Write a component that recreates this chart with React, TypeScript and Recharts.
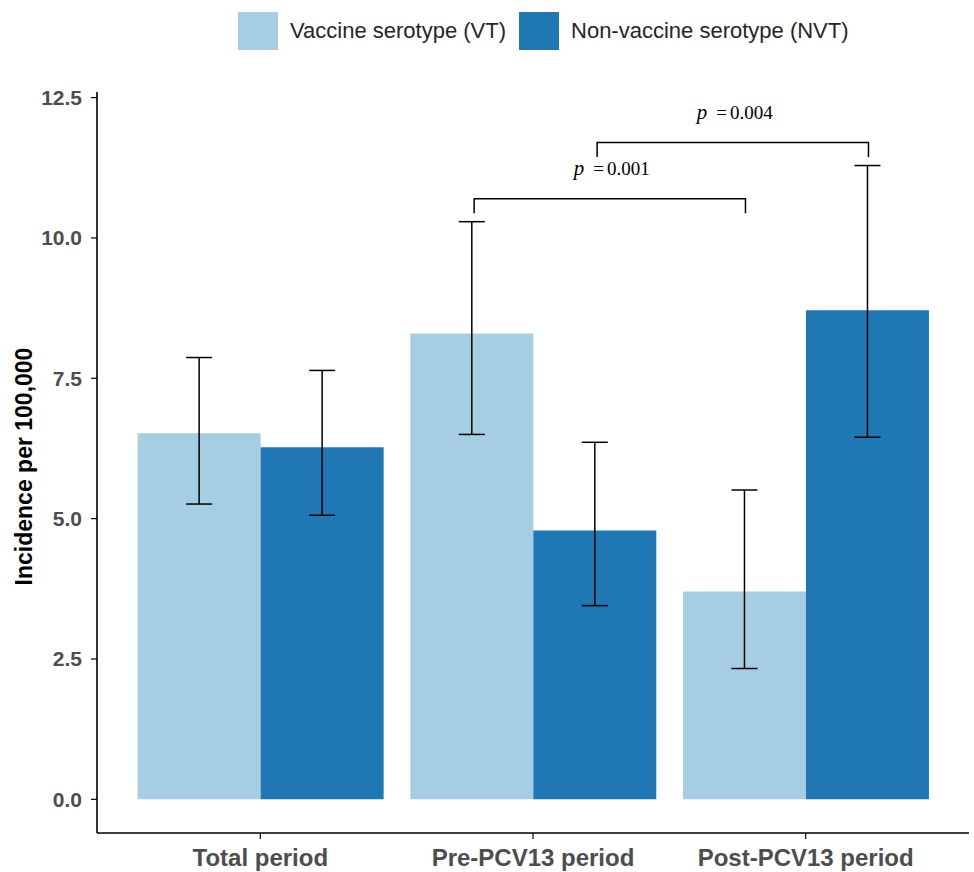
import { BarChart, Bar, XAxis, YAxis, ErrorBar, Legend } from 'recharts'

const categories = ['Total period', 'Pre-PCV13 period', 'Post-PCV13 period']

const vtValues = [6.52, 8.3, 3.7]
const vtLower = [5.26, 6.5, 2.33]
const vtUpper = [7.87, 10.29, 5.51]

const nvtValues = [6.27, 4.79, 8.71]
const nvtLower = [5.06, 3.45, 6.45]
const nvtUpper = [7.64, 6.36, 11.29]

const yTicks = [0, 2.5, 5, 7.5, 10, 12.5]

// significance brackets: [category index, series] -> [category index, series]
const bracketFrom: [number, string][] = [[1, 'vt'], [1, 'nvt']]
const bracketTo: [number, string][] = [[2, 'vt'], [2, 'nvt']]
const bracketY = [10.7, 11.7]
const bracketP = ['0.001', '0.004']

const VT_COLOR = '#a6cee3'
const NVT_COLOR = '#1f78b4'
const SANS = '"Liberation Sans", Arial, sans-serif'
const SERIF = '"Liberation Serif", "Times New Roman", serif'

const series = [
  { key: 'vt', label: 'Vaccine serotype (VT)', color: VT_COLOR },
  { key: 'nvt', label: 'Non-vaccine serotype (NVT)', color: NVT_COLOR },
]

const data = categories.map((name, i) => ({
  name,
  vt: vtValues[i],
  nvt: nvtValues[i],
  vtErr: [vtValues[i] - vtLower[i], vtUpper[i] - vtValues[i]],
  nvtErr: [nvtValues[i] - nvtLower[i], nvtUpper[i] - nvtValues[i]],
}))

// dodge geometry like ggplot: bar group width 0.9, each bar 0.45 of the band
const GAP = 0.05
const DODGE = (1 - 2 * GAP) / 4
const xPos = (idx: number, s: string) => idx + (s === 'vt' ? -DODGE : DODGE)

function LegendBox() {
  return (
    <div style={{ display: 'flex', alignItems: 'center', height: 50, paddingLeft: 238, fontFamily: SANS, fontSize: 22, color: '#262626' }}>
      {series.map((s) => (
        <div key={s.key} style={{ display: 'flex', alignItems: 'center', marginRight: 13 }}>
          <span style={{ display: 'inline-block', width: 40, height: 38, background: s.color, marginRight: 12 }} />
          <span>{s.label}</span>
        </div>
      ))}
    </div>
  )
}

function YLabel(props: any) {
  const vb = props.viewBox || { y: 0, height: 0 }
  const cy = vb.y + vb.height / 2 + 4
  return (
    <text x={32} y={cy} transform={`rotate(-90, 32, ${cy})`} textAnchor="middle"
      fontFamily={SANS} fontWeight="bold" fontSize={23} fill="#000">
      Incidence per 100,000
    </text>
  )
}

// draws the brackets that end on this bar, using the bar's own geometry from the scales
function bracketLabel(seriesKey: string) {
  return (props: any) => {
    const vb = props.viewBox || {}
    const x = props.x ?? vb.x
    const y = props.y ?? vb.y
    const width = props.width ?? vb.width
    const height = props.height ?? vb.height
    const index = props.index
    const value = seriesKey === 'vt' ? vtValues[index] : nvtValues[index]
    const out: any[] = []
    bracketTo.forEach((to, i) => {
      if (to[0] !== index || to[1] !== seriesKey) return
      const band = width / (2 * DODGE)
      const ppu = height / value
      const base = y + height
      const py = (v: number) => base - v * ppu
      const x2 = x + width / 2 + 1
      const x1 = x2 + band * (xPos(bracketFrom[i][0], bracketFrom[i][1]) - xPos(to[0], to[1])) + 2
      const top = py(bracketY[i])
      const tip = py(bracketY[i] - 0.26)
      out.push(
        <g key={i}>
          <path d={`M${x1},${tip}V${top}H${x2}V${tip}`} fill="none" stroke="#000" strokeWidth={1.5} />
          <text x={(x1 + x2) / 2 + 2} y={py(bracketY[i] + 0.42)} textAnchor="middle" fontFamily={SERIF} fontSize={19} fill="#000">
            <tspan fontStyle="italic" fontSize={21}>p</tspan>
            <tspan dx={9}>=</tspan>
            <tspan dx={3}>{bracketP[i]}</tspan>
          </text>
        </g>
      )
    })
    return <g>{out}</g>
  }
}

export default function App() {
  return (
    <div style={{ position: 'absolute', left: 0, top: 0, background: '#fff' }}>
      <BarChart width={974} height={872} data={data} margin={{ top: 42, right: 5, bottom: 0, left: 0 }}
        barCategoryGap={`${GAP * 100}%`} barGap={0}>
        <XAxis dataKey="name" height={39} padding={{ left: 27, right: 27 }}
          axisLine={{ stroke: '#000', strokeWidth: 1.6 }} tickLine={{ stroke: '#000', strokeWidth: 1.2 }} tickSize={6} tickMargin={10}
          tick={{ fontFamily: SANS, fontWeight: 'bold', fontSize: 24, fill: '#4d4d4d' }} interval={0} />
        <YAxis width={97} domain={[-0.6, 12.6]} ticks={yTicks} allowDataOverflow
          tickFormatter={(v) => Number(v).toFixed(1)}
          axisLine={{ stroke: '#000', strokeWidth: 1.6 }} tickLine={{ stroke: '#000', strokeWidth: 1.2 }} tickSize={6} tickMargin={9}
          tick={{ fontFamily: SANS, fontWeight: 'bold', fontSize: 21, fill: '#4d4d4d' }}
          label={{ content: (p: any) => <YLabel {...p} /> }} />
        <Legend verticalAlign="top" wrapperStyle={{ top: 6, left: 0, width: 974 }} content={() => <LegendBox />} />
        <Bar dataKey="vt" fill={VT_COLOR} isAnimationActive={false} label={bracketLabel('vt')}>
          <ErrorBar dataKey="vtErr" direction="y" width={13} stroke="#000" strokeWidth={1.5} />
        </Bar>
        <Bar dataKey="nvt" fill={NVT_COLOR} isAnimationActive={false} label={bracketLabel('nvt')}>
          <ErrorBar dataKey="nvtErr" direction="y" width={13} stroke="#000" strokeWidth={1.5} />
        </Bar>
      </BarChart>
    </div>
  )
}
